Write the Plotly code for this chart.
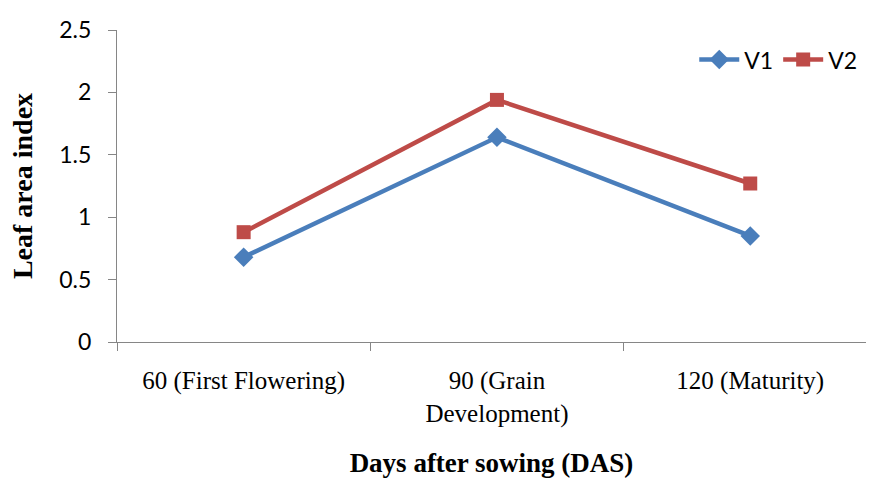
import plotly.graph_objects as go

# Growth stages (days after sowing) and leaf area index per variety
stages = ["60 (First Flowering)", "90 (Grain<br>Development)", "120 (Maturity)"]
v1_lai = [0.68, 1.64, 0.85]
v2_lai = [0.88, 1.94, 1.27]

y_ticks = [0, 0.5, 1, 1.5, 2, 2.5]
y_tick_text = ["0", "0.5", "1", "1.5", "2", "2.5"]

AXIS_GREY = "#868686"
SANS = "Lato, Carlito, Calibri, sans-serif"
SERIF = "Liberation Serif, Times New Roman, serif"

fig = go.Figure()
fig.add_trace(go.Scatter(
    x=stages, y=v1_lai, name="V1", mode="lines+markers",
    line=dict(color="#4A7EBB", width=4.5),
    marker=dict(symbol="diamond", size=15, color="#4A7EBB"),
))
fig.add_trace(go.Scatter(
    x=stages, y=v2_lai, name="V2", mode="lines+markers",
    line=dict(color="#BE4B48", width=4.5),
    marker=dict(symbol="square", size=14, color="#BE4B48"),
))

fig.update_layout(
    width=869, height=478,
    margin=dict(l=117, r=3, t=30, b=136),
    paper_bgcolor="white", plot_bgcolor="white",
    showlegend=True,
    legend=dict(
        orientation="h", x=0.995, xanchor="right", y=0.905, yanchor="middle",
        font=dict(family=SANS, size=23, color="black"),
        bgcolor="rgba(0,0,0,0)", itemwidth=40, tracegroupgap=0,
    ),
    xaxis=dict(
        type="category", range=[-0.5, 2.457],
        showline=True, linecolor=AXIS_GREY, linewidth=1.3,
        ticks="outside", tickson="boundaries", ticklen=8, tickcolor=AXIS_GREY,
        showgrid=False, zeroline=False,
        tickfont=dict(family=SERIF, size=25, color="black"),
        ticklabelstandoff=16,
        title=dict(text="<b>Days after sowing (DAS)</b>",
                   font=dict(family=SERIF, size=27, color="black"), standoff=26),
    ),
    yaxis=dict(
        range=[0, 2.5], tickvals=y_ticks, ticktext=y_tick_text,
        showline=True, linecolor=AXIS_GREY, linewidth=1.3,
        ticks="outside", ticklen=8, tickcolor=AXIS_GREY,
        showgrid=False, zeroline=False,
        tickfont=dict(family=SANS, size=23, color="black"),
        ticklabelstandoff=12,
        title=dict(text="<b>Leaf area index</b>",
                   font=dict(family=SERIF, size=28, color="black"), standoff=18),
    ),
)

fig.write_html("out.html")
